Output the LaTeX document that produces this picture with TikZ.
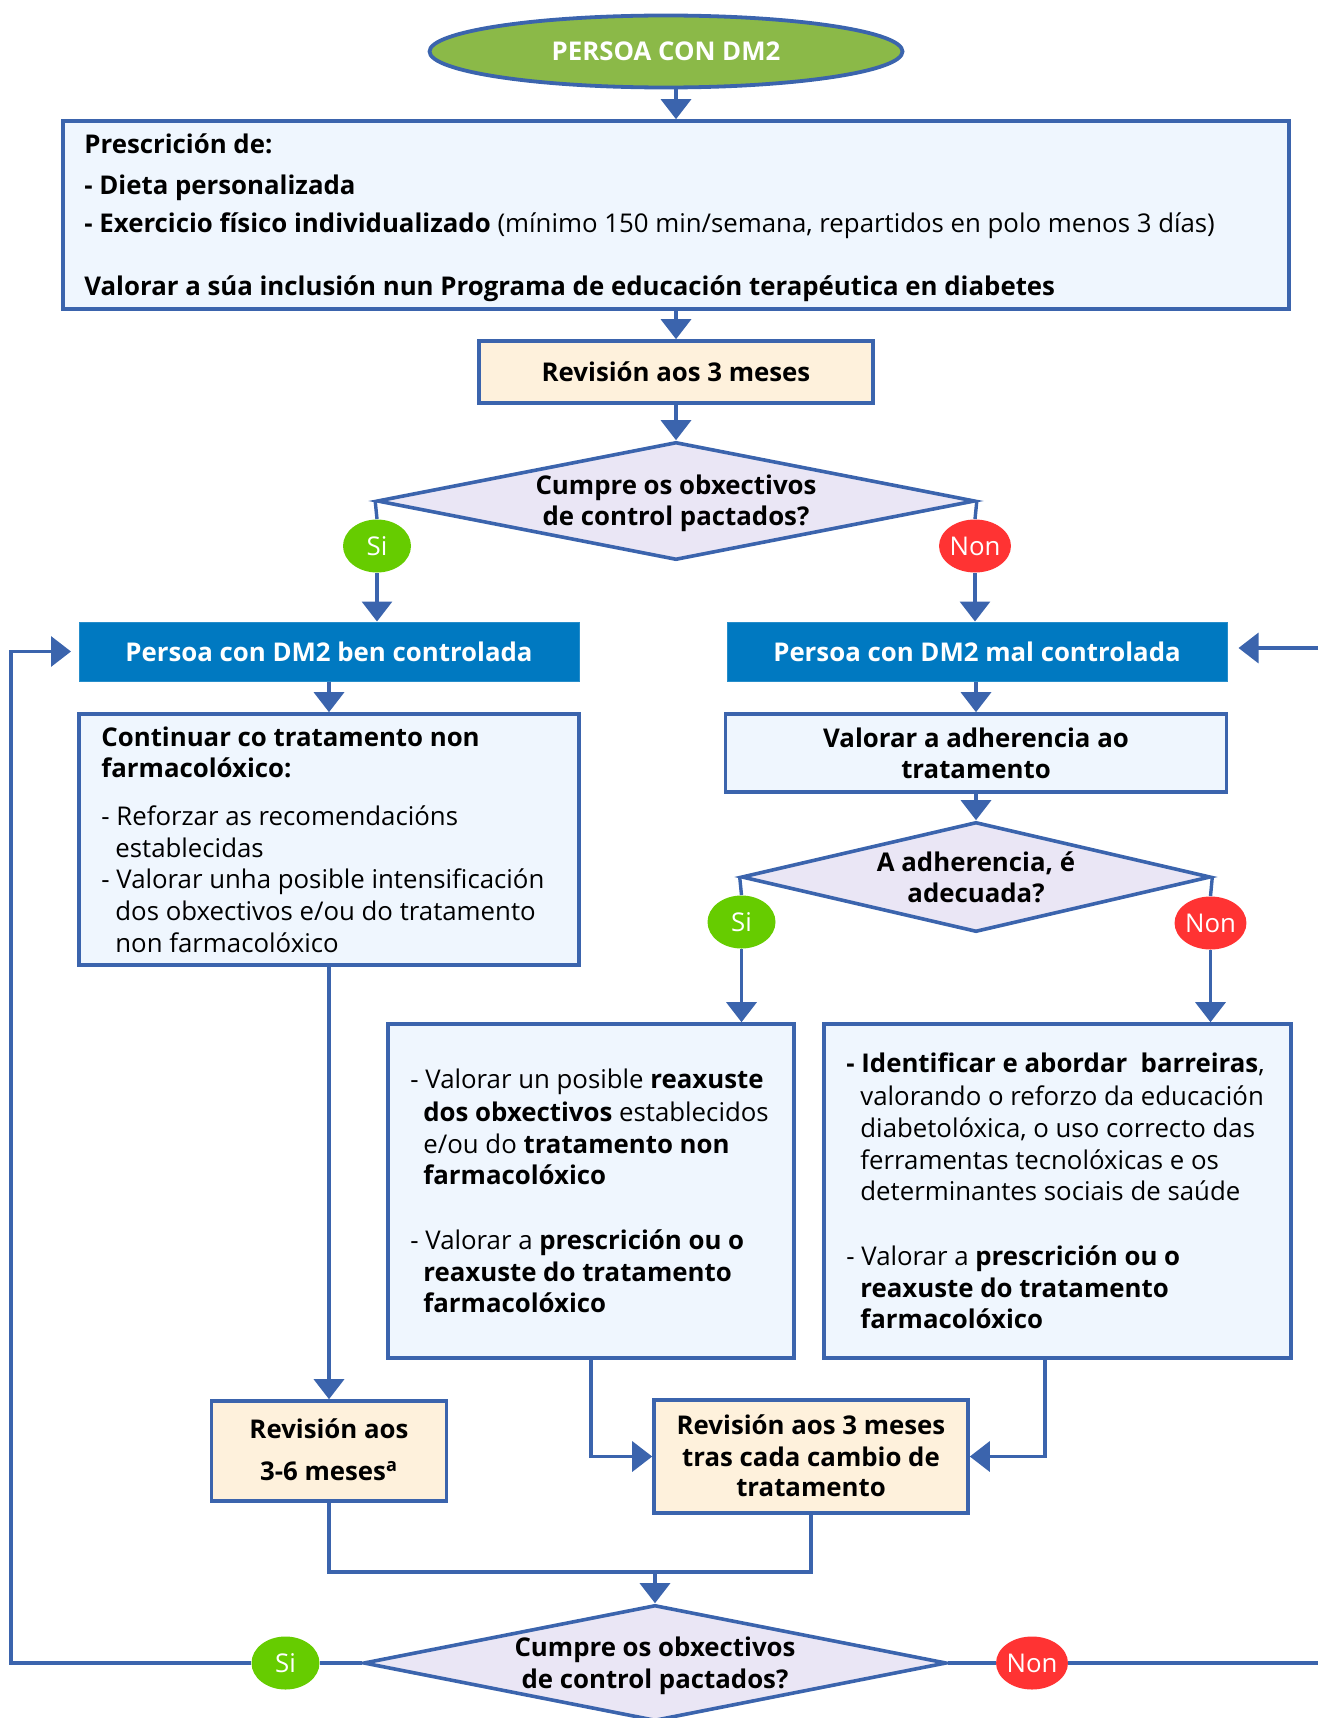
\documentclass[tikz,border=0pt]{standalone}
\usepackage{fontspec}
\setmainfont{Open Sans}
\usetikzlibrary{shapes.geometric,arrows.meta}
\definecolor{lineblue}{RGB}{59,100,173}
\definecolor{paleblue}{RGB}{239,246,254}
\definecolor{creamfill}{RGB}{254,241,220}
\definecolor{lavender}{RGB}{234,230,245}
\definecolor{hdrblue}{RGB}{0,121,193}
\definecolor{startgreen}{RGB}{139,185,72}
\definecolor{yesgreen}{RGB}{102,204,0}
\definecolor{nored}{RGB}{255,51,51}
\newcommand{\flowfont}{\fontsize{12.9}{15}\selectfont}
\begin{document}
\begin{tikzpicture}[x=0.5pt,y=-0.5pt,
  font=\flowfont,
  box/.style={rectangle, draw=lineblue, line width=1.8pt, fill=paleblue, inner sep=0pt},
  creambox/.style={box, fill=creamfill},
  hdr/.style={rectangle, fill=hdrblue, draw=hdrblue!85!white, line width=0.5pt, inner sep=0pt,
    text=white, font=\flowfont\bfseries},
  decision/.style={diamond, draw=lineblue, line width=1.8pt, fill=lavender, inner sep=0pt},
  yes/.style={ellipse, fill=yesgreen, text=white, inner sep=0pt, minimum width=34pt, minimum height=26.5pt},
  no/.style={ellipse, fill=nored, text=white, inner sep=0pt, minimum width=34pt, minimum height=26.5pt},
  conn/.style={draw=lineblue, line width=1.7pt},
  arr/.style={conn, -{Triangle[width=15pt,length=10pt]}},
  txt/.style={anchor=base west, inner sep=0pt},
  btxt/.style={txt, font=\flowfont\bfseries},
  ctxt/.style={anchor=base, inner sep=0pt, font=\flowfont\bfseries}]
\useasboundingbox (0,0) rectangle (1318,1718);
\clip (0,0) rectangle (1318,1718);

% ---------- boxes ----------
\node[ellipse, draw=lineblue, line width=1.9pt, fill=startgreen, minimum width=236.5pt, minimum height=36pt,
  inner sep=0pt, text=white, font=\flowfont\bfseries] (ell) at (666,51.5) {PERSOA CON DM2};

\node[box, minimum width=613pt, minimum height=94pt] (big) at (676,215) {};
\node[creambox, minimum width=197pt, minimum height=31pt, font=\flowfont\bfseries] (rev1) at (676,372) {Revisión aos 3 meses};
\node[decision, minimum width=299pt, minimum height=59pt] (d1) at (676,501) {};

\node[hdr, minimum width=250pt, minimum height=29.5pt] (ben) at (329,651.5) {Persoa con DM2 ben controlada};
\node[hdr, minimum width=250pt, minimum height=29.5pt] (mal) at (977,651.5) {Persoa con DM2 mal controlada};

\node[box, minimum width=250pt, minimum height=125.5pt] (cont) at (329,839.5) {};
\node[box, minimum width=250.5pt, minimum height=39pt] (adh) at (976,753) {};
\node[decision, minimum width=234.5pt, minimum height=55pt] (d2) at (976,877) {};

\node[box, minimum width=203pt, minimum height=167pt] (boxL) at (591,1191) {};
\node[box, minimum width=233.5pt, minimum height=167pt] (boxR) at (1057.5,1191) {};

\node[creambox, minimum width=117.5pt, minimum height=50pt] (rev36) at (329,1451) {};
\node[creambox, minimum width=157pt, minimum height=56.5pt] (rev3t) at (811,1456.5) {};

\node[decision, minimum width=291.5pt, minimum height=58pt] (d3) at (655,1663) {};

% ---------- yes / no markers ----------
\node[yes] (si1) at (377,546) {Si};
\node[no] (non1) at (975,546) {Non};
\node[yes] (si2) at (741.5,922) {Si};
\node[no] (non2) at (1210.5,923) {Non};
\node[yes] (si3) at (285.5,1663) {Si};
\node[no] (non3) at (1032,1663) {Non};

% ---------- texts ----------
\node[btxt] (p1) at (84,154) {Prescrición de:};
\node[btxt] (p2) at (84,194) {- Dieta personalizada};
\node[txt] (p3) at (84,232) {\textbf{- Exercicio físico individualizado} (mínimo 150 min/semana, repartidos en polo menos 3 días)};
\node[btxt] (p4) at (84,295) {Valorar a súa inclusión nun Programa de educación terapéutica en diabetes};

\node[ctxt] (q1a) at (676,494) {Cumpre os obxectivos};
\node[ctxt] (q1b) at (676,525) {de control pactados?};

\node[btxt] (c1) at (101,746) {Continuar co tratamento non};
\node[btxt] (c2) at (101,777) {farmacolóxico:};
\node[txt] (c3) at (101,825) {- Reforzar as recomendacións};
\node[txt] (c4) at (115,857) {establecidas};
\node[txt] (c5) at (101,888) {- Valorar unha posible intensificación};
\node[txt] (c6) at (115,920) {dos obxectivos e/ou do tratamento};
\node[txt] (c7) at (115,952) {non farmacolóxico};

\node[ctxt] (a1) at (976,747) {Valorar a adherencia ao};
\node[ctxt] (a2) at (976,778) {tratamento};

\node[ctxt] (q2a) at (976,871) {A adherencia, é};
\node[ctxt] (q2b) at (976,902) {adecuada?};

\node[txt] (l1) at (410,1088) {- Valorar un posible \textbf{reaxuste}};
\node[txt] (l2) at (423,1121) {\textbf{dos obxectivos} establecidos};
\node[txt] (l3) at (423,1153) {e/ou do \textbf{tratamento non}};
\node[txt] (l4) at (423,1184) {\textbf{farmacolóxico}};
\node[txt] (l5) at (410,1249) {- Valorar a \textbf{prescrición ou o}};
\node[txt] (l6) at (423,1281) {\textbf{reaxuste do tratamento}};
\node[txt] (l7) at (423,1312) {\textbf{farmacolóxico}};

\node[txt] (r1) at (846,1072) {\textbf{- Identificar e abordar\ \ barreiras},};
\node[txt] (r2) at (860,1105) {valorando o reforzo da educación};
\node[txt] (r3) at (860,1137) {diabetolóxica, o uso correcto das};
\node[txt] (r4) at (860,1169) {ferramentas tecnolóxicas e os};
\node[txt] (r5) at (860,1200) {determinantes sociais de saúde};
\node[txt] (r6) at (846,1265) {- Valorar a \textbf{prescrición ou o}};
\node[txt] (r7) at (860,1297) {\textbf{reaxuste do tratamento}};
\node[txt] (r8) at (860,1328) {\textbf{farmacolóxico}};

\node[ctxt] (s1) at (329,1438) {Revisión aos};
\node[ctxt] (s2) at (329,1480) {3-6 meses\textsuperscript{a}};

\node[ctxt] (t1) at (811,1434) {Revisión aos 3 meses};
\node[ctxt] (t2) at (811,1466) {tras cada cambio de};
\node[ctxt] (t3) at (811,1496) {tratamento};

\node[ctxt] (q3a) at (655,1656) {Cumpre os obxectivos};
\node[ctxt] (q3b) at (655,1688) {de control pactados?};

% ---------- connectors ----------
\coordinate (rb) at (1045,1358);
\coordinate (mj) at (655,1572);
\coordinate (lc) at (11,1663);
\coordinate (rc) at (1318,1663);
\coordinate (rt) at (1318,648);

\draw[arr] (ell.south -| big.north) -- (big.north);
\draw[arr] (big.south) -- (rev1.north);
\draw[arr] (rev1.south) -- (d1.north);

\draw[conn] (d1.west) -- (si1.north);
\draw[arr] (si1.south) -- (si1.south |- ben.north);
\draw[conn] (d1.east) -- (non1.north);
\draw[arr] (non1.south) -- (non1.south |- mal.north);

\draw[arr] (ben.south) -- (cont.north);
\draw[arr] (adh.north |- mal.south) -- (adh.north);
\draw[arr] (adh.south) -- (d2.north);

\draw[conn] (d2.west) -- (si2.north);
\draw[arr] (si2.south) -- (si2.south |- boxL.north);
\draw[conn] (d2.east) -- (non2.north);
\draw[arr] (non2.south) -- (non2.south |- boxR.north);

\draw[arr] (cont.south) -- (rev36.north);
\draw[arr] (boxL.south) |- (rev3t.west);
\draw[arr] (rb) |- (rev3t.east);

\draw[conn] (rev36.south) -- (rev36.south |- mj) -- (rev3t.south |- mj) -- (rev3t.south);
\draw[arr] (mj) -- (d3.north);

\draw[conn] (d3.west) -- (si3.east);
\draw[arr, shorten >=3.75pt] (si3.west) -- (lc) |- (ben.west);
\draw[conn] (d3.east) -- (non3.west);
\draw[conn] (non3.east) -- (rc);
\draw[arr, shorten >=5.5pt] (rt) -- (mal.east |- rt);
\end{tikzpicture}
\end{document}
